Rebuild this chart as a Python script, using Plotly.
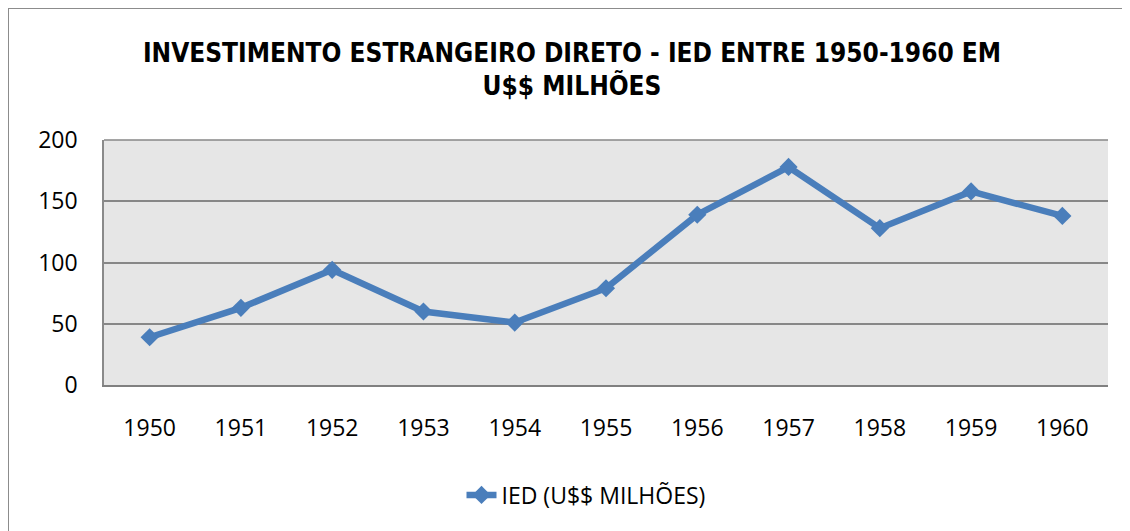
import plotly.graph_objects as go

years = ["1950", "1951", "1952", "1953", "1954", "1955", "1956", "1957", "1958", "1959", "1960"]
ied = [39, 63, 94, 60, 51, 79, 139, 178, 128, 158, 138]
y_ticks = [0, 50, 100, 150, 200]
series_name = "IED (U$$ MILHÕES)"
title_text = "INVESTIMENTO ESTRANGEIRO DIRETO - IED ENTRE 1950-1960 EM<br>U$$ MILHÕES"

W, H = 1130, 531
OFF = 8  # page body margin offset
L, R, T, B = 104 - OFF, 22 + OFF, 140 - OFF, 146 + OFF
pw, ph = W - L - R, H - T - B

blue = "#4A7EBB"
grid = "#878787"
font_main = "Open Sans, Lato, Liberation Sans, sans-serif"

fig = go.Figure()
fig.add_trace(go.Scatter(
    x=years, y=ied, name=series_name, mode="lines+markers",
    line=dict(color=blue, width=6.5),
    marker=dict(symbol="diamond", size=14, color=blue),
))

def px_x(p):
    return (p - OFF - L) / pw

def px_y(p):
    return (H - B - (p - OFF)) / ph

fig.update_layout(
    width=W, height=H,
    margin=dict(l=L, r=R, t=T, b=B),
    paper_bgcolor="white",
    plot_bgcolor="#E6E6E6",
    font=dict(family=font_main, size=23, color="black"),
    title=dict(
        text=title_text,
        x=564 / W, xref="container", xanchor="center",
        y=1 - 53.5 / H, yref="container", yanchor="middle",
        font=dict(family="Liberation Sans Narrow, DejaVu Sans Condensed, Liberation Sans, sans-serif",
                  size=26, color="black", weight="bold"),
    ),
    showlegend=True,
    legend=dict(
        orientation="h", x=578 / W, xref="container", xanchor="center",
        y=1 - 487 / H, yref="container", yanchor="middle",
        font=dict(family=font_main, size=23, color="black"),
        bgcolor="rgba(0,0,0,0)",
    ),
    xaxis=dict(
        type="category", range=[-0.5, len(years) - 0.5],
        showgrid=False, zeroline=False,
        showline=True, linecolor="#808080", linewidth=2,
        ticks="", ticklabelstandoff=21,
        tickfont=dict(family=font_main, size=23, color="black"),
    ),
    yaxis=dict(
        range=[0, 200], tickvals=y_ticks,
        showgrid=True, gridcolor=grid, gridwidth=1.5,
        zeroline=False,
        showline=True, linecolor="#8A8A8A", linewidth=1.5,
        ticks="", ticklabelstandoff=20,
        tickfont=dict(family=font_main, size=23, color="black"),
    ),
    shapes=[
        dict(type="rect", xref="paper", yref="paper",
             x0=px_x(8), x1=px_x(1145), y0=px_y(545), y1=px_y(8),
             line=dict(color="#8C8C8C", width=2), fillcolor="rgba(0,0,0,0)", layer="below"),
        dict(type="line", xref="paper", yref="paper",
             x0=0, x1=1, y0=1, y1=1, line=dict(color=grid, width=1.5), layer="below"),
    ],
)

fig.write_html("out.html")
